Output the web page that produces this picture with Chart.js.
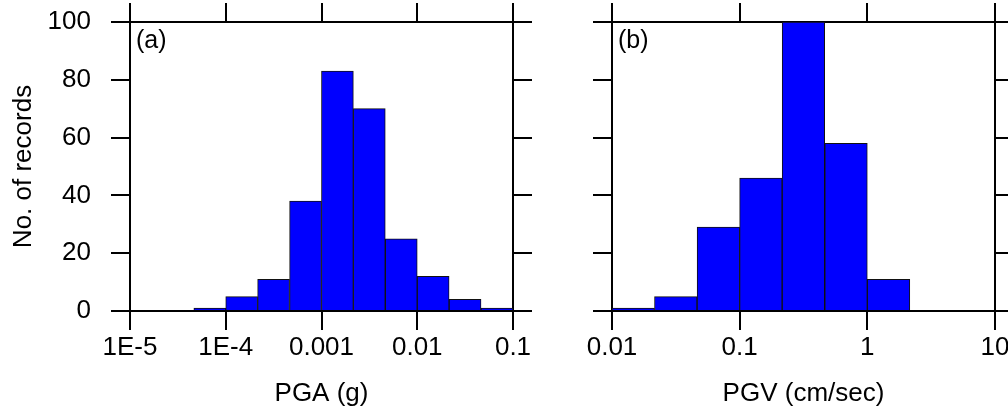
<!DOCTYPE html>
<html>
<head>
<meta charset="utf-8">
<script src="https://cdn.jsdelivr.net/npm/chart.js@4/dist/chart.umd.min.js"></script>
<style>
  html, body { margin: 0; padding: 0; background: #fff; overflow: hidden; }
  #wrapA { position: absolute; left: 0; top: 0; width: 560px; height: 413px; }
  #wrapB { position: absolute; left: 560px; top: 0; width: 454px; height: 413px; }
</style>
</head>
<body>
<div id="wrapA"><canvas id="chartA"></canvas></div>
<div id="wrapB"><canvas id="chartB"></canvas></div>
<script>
// (a) PGA histogram, bins of 1/3 decade
const pgaBinEdges = [4.64e-5, 1e-4, 2.15e-4, 4.64e-4, 1e-3, 2.15e-3, 4.64e-3, 1e-2, 2.15e-2, 4.64e-2, 1e-1];
const pgaCounts = [1, 5, 11, 38, 83, 70, 25, 12, 4, 1];
const pgaTicks = [1e-5, 1e-4, 1e-3, 1e-2, 1e-1];
const pgaTickLabels = ["1E-5", "1E-4", "0.001", "0.01", "0.1"];

// (b) PGV histogram
const pgvBinEdges = [0.01, 0.0215, 0.0464, 0.1, 0.215, 0.464, 1, 2.15];
const pgvCounts = [1, 5, 29, 46, 100, 58, 11];
const pgvTicks = [0.01, 0.1, 1, 10];
const pgvTickLabels = ["0.01", "0.1", "1", "10"];

const countTicks = [0, 20, 40, 60, 80, 100];

const FONT = '"Liberation Sans", Arial, sans-serif';
const labelFont = { family: FONT, size: 26 };

// panel letter in the top-left corner
const panelLabel = {
  id: "panelLabel",
  afterDraw(chart, args, opts) {
    const { ctx, chartArea } = chart;
    ctx.save();
    ctx.font = "25px " + FONT;
    ctx.fillStyle = "#000";
    ctx.textBaseline = "middle";
    ctx.fillText(opts.text, chartArea.left + 6, chartArea.top + 19);
    ctx.restore();
  }
};

const gridOpts = { drawOnChartArea: false, drawTicks: true, tickLength: 19, color: "#000", lineWidth: 2, offset: false };
const borderOpts = { display: true, color: "#000", width: 2 };

function makeChart(id, edges, counts, ticks, tickLabels, xTitle, panel, leftWidth, rightPad, showY) {
  const points = counts.map((c, i) => ({ x: Math.sqrt(edges[i] * edges[i + 1]), y: c }));
  const setXTicks = s => { s.ticks = ticks.map(v => ({ value: v })); };
  const setYTicks = s => { s.ticks = countTicks.map(v => ({ value: v })); };

  return new Chart(document.getElementById(id), {
    type: "bar",
    data: {
      datasets: [{
        data: points,
        backgroundColor: "#0000ff",
        borderColor: "#111",
        borderWidth: 1,
        barPercentage: 1,
        categoryPercentage: 1
      }]
    },
    options: {
      responsive: true,
      maintainAspectRatio: false,
      animation: false,
      layout: { padding: { left: 0, right: rightPad, top: 0, bottom: 0 } },
      plugins: {
        legend: { display: false },
        tooltip: { enabled: false },
        panelLabel: { text: panel }
      },
      scales: {
        x: {
          type: "logarithmic",
          position: "bottom",
          min: ticks[0],
          max: ticks[ticks.length - 1],
          offset: false,
          z: 1,
          afterBuildTicks: setXTicks,
          afterFit: s => { s.height = 102; s.paddingLeft = 0; s.paddingRight = 0; },
          ticks: {
            callback: (v, i) => tickLabels[i],
            font: labelFont, color: "#000", padding: 2,
            maxRotation: 0, autoSkip: false
          },
          grid: gridOpts,
          border: borderOpts,
          title: { display: true, text: xTitle, font: labelFont, color: "#000", padding: { top: 0, bottom: 4 } }
        },
        x2: {
          type: "logarithmic",
          position: "top",
          min: ticks[0],
          max: ticks[ticks.length - 1],
          offset: false,
          z: 1,
          afterBuildTicks: setXTicks,
          afterFit: s => { s.height = 22; s.paddingLeft = 0; s.paddingRight = 0; },
          ticks: { display: false },
          grid: gridOpts,
          border: borderOpts
        },
        y: {
          type: "linear",
          position: "left",
          min: 0,
          max: 100,
          z: 1,
          afterBuildTicks: setYTicks,
          afterFit: s => { s.width = leftWidth; s.paddingTop = 0; s.paddingBottom = 0; },
          ticks: { display: showY, font: labelFont, color: "#000", padding: 20 },
          grid: gridOpts,
          border: borderOpts,
          title: { display: showY, text: "No. of records", font: labelFont, color: "#000", padding: { top: 8, bottom: 0 } }
        },
        y2: {
          type: "linear",
          position: "right",
          min: 0,
          max: 100,
          z: 1,
          afterBuildTicks: setYTicks,
          afterFit: s => { s.width = 19; s.paddingTop = 0; s.paddingBottom = 0; },
          ticks: { display: false },
          grid: gridOpts,
          border: borderOpts
        }
      }
    },
    plugins: [panelLabel]
  });
}

makeChart("chartA", pgaBinEdges, pgaCounts, pgaTicks, pgaTickLabels, "PGA (g)", "(a)", 130, 28, true);
makeChart("chartB", pgvBinEdges, pgvCounts, pgvTicks, pgvTickLabels, "PGV (cm/sec)", "(b)", 52, 0, false);
</script>
</body>
</html>
